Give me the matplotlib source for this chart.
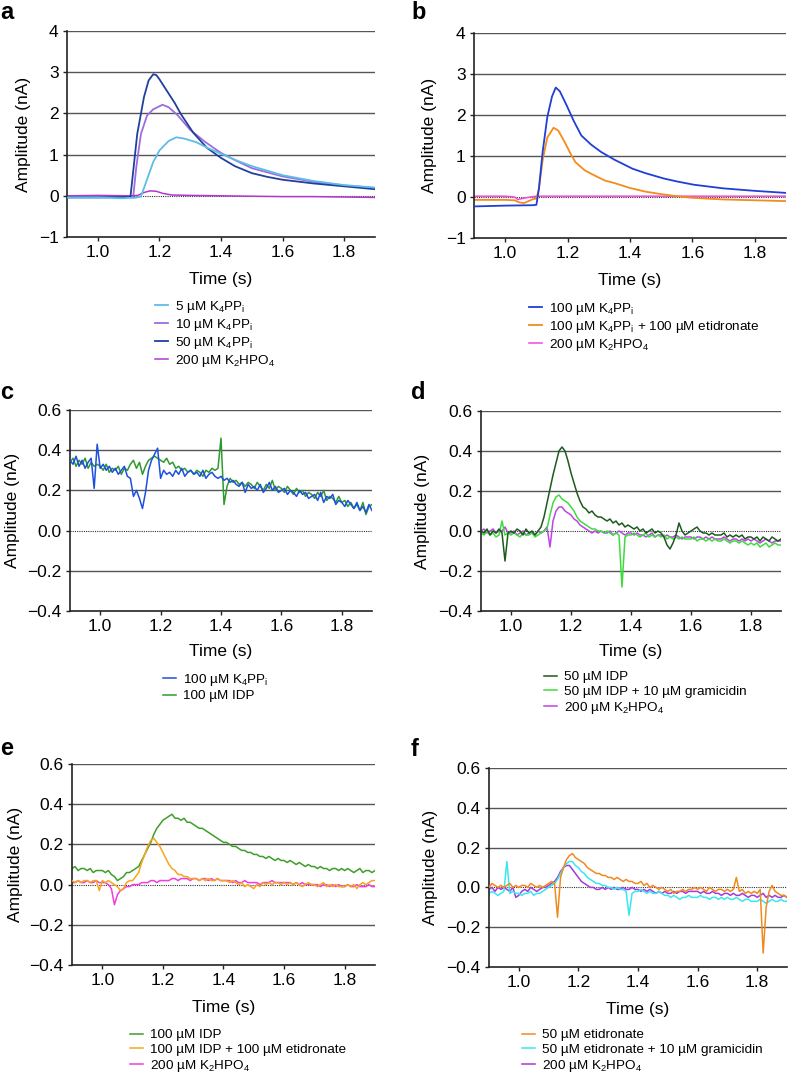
import numpy as np
import matplotlib
matplotlib.use('Agg')
import matplotlib.pyplot as plt

plt.rcParams['font.family'] = ['Liberation Sans', 'DejaVu Sans']
plt.rcParams['mathtext.fontset'] = 'custom'
plt.rcParams['mathtext.rm'] = 'Liberation Sans'
plt.rcParams['mathtext.it'] = 'Liberation Sans:italic'
plt.rcParams['axes.unicode_minus'] = True

# ---------------- panel a (smooth traces, key points) ----------------
a_t_5 = [0.90, 1.00, 1.08, 1.10, 1.12, 1.14, 1.16, 1.18, 1.20, 1.23, 1.255, 1.28, 1.32, 1.36, 1.40, 1.45, 1.50, 1.60, 1.70, 1.80, 1.90]
a_y_5 = [-0.04, -0.04, -0.06, -0.05, -0.05, -0.02, 0.40, 0.82, 1.10, 1.33, 1.42, 1.39, 1.30, 1.15, 1.02, 0.86, 0.72, 0.50, 0.36, 0.26, 0.20]
a_t_10 = [0.90, 1.00, 1.10, 1.115, 1.125, 1.14, 1.16, 1.18, 1.21, 1.23, 1.26, 1.30, 1.35, 1.40, 1.45, 1.50, 1.60, 1.70, 1.80, 1.90]
a_y_10 = [-0.03, -0.03, -0.03, -0.02, 0.70, 1.50, 1.95, 2.10, 2.21, 2.15, 1.95, 1.60, 1.30, 1.04, 0.85, 0.67, 0.47, 0.34, 0.25, 0.19]
a_t_50 = [0.90, 1.00, 1.10, 1.106, 1.115, 1.128, 1.15, 1.165, 1.18, 1.19, 1.20, 1.225, 1.25, 1.27, 1.31, 1.355, 1.40, 1.445, 1.50, 1.55, 1.60, 1.70, 1.80, 1.90]
a_y_50 = [-0.04, -0.04, -0.03, -0.02, 0.60, 1.50, 2.40, 2.80, 2.95, 2.93, 2.83, 2.54, 2.25, 1.98, 1.53, 1.16, 0.92, 0.72, 0.55, 0.46, 0.39, 0.30, 0.23, 0.16]
a_t_hpo = [0.90, 1.00, 1.10, 1.13, 1.15, 1.17, 1.19, 1.21, 1.24, 1.30, 1.40, 1.50, 1.60, 1.70, 1.80, 1.90]
a_y_hpo = [0.00, 0.01, 0.00, 0.01, 0.08, 0.12, 0.11, 0.06, 0.02, 0.01, 0.00, -0.01, -0.02, -0.02, -0.03, -0.04]

# ---------------- panel b ----------------
b_t_pp = [0.90, 1.00, 1.09, 1.100, 1.108, 1.12, 1.135, 1.15, 1.162, 1.175, 1.196, 1.22, 1.244, 1.275, 1.307, 1.35, 1.408, 1.45, 1.509, 1.55, 1.604, 1.70, 1.80, 1.90]
b_y_pp = [-0.23, -0.21, -0.20, -0.19, 0.20, 1.10, 1.95, 2.45, 2.67, 2.58, 2.25, 1.85, 1.50, 1.28, 1.10, 0.91, 0.69, 0.58, 0.45, 0.38, 0.30, 0.21, 0.15, 0.10]
b_t_eti = [0.90, 1.00, 1.03, 1.045, 1.06, 1.075, 1.09, 1.10, 1.108, 1.12, 1.135, 1.155, 1.17, 1.19, 1.21, 1.225, 1.255, 1.285, 1.32, 1.35, 1.40, 1.45, 1.50, 1.55, 1.60, 1.70, 1.80, 1.90]
b_y_eti = [-0.07, -0.07, -0.08, -0.13, -0.15, -0.10, -0.05, -0.04, 0.20, 0.90, 1.45, 1.69, 1.62, 1.35, 1.05, 0.85, 0.65, 0.53, 0.40, 0.34, 0.22, 0.13, 0.07, 0.02, -0.02, -0.06, -0.08, -0.10]
b_t_hpo = [0.90, 1.00, 1.03, 1.04, 1.06, 1.08, 1.10, 1.20, 1.40, 1.60, 1.80, 1.90]
b_y_hpo = [0.02, 0.02, 0.00, -0.06, -0.03, 0.00, 0.02, 0.02, 0.02, 0.02, 0.02, 0.02]

# ---------------- noisy traces, sampled every 10 ms from 0.90 to 1.90 s ----------------
t = np.linspace(0.9, 1.9, 101)

c_pp = [0.35, 0.33, 0.37, 0.32, 0.35, 0.31, 0.34, 0.36, 0.21, 0.43,
        0.31, 0.33, 0.30, 0.32, 0.29, 0.31, 0.28, 0.30, 0.32, 0.27,
        0.26, 0.17, 0.20, 0.16, 0.11, 0.19, 0.30, 0.35, 0.38, 0.41,
        0.26, 0.30, 0.28, 0.29, 0.27, 0.30, 0.28, 0.31, 0.27, 0.29,
        0.30, 0.28, 0.29, 0.27, 0.30, 0.26, 0.28, 0.29, 0.27, 0.26,
        0.27, 0.25, 0.26, 0.24, 0.25, 0.23, 0.22, 0.24, 0.19, 0.23,
        0.21, 0.22, 0.20, 0.23, 0.19, 0.21, 0.24, 0.20, 0.22, 0.19,
        0.20, 0.21, 0.18, 0.20, 0.19, 0.17, 0.20, 0.18, 0.19, 0.16,
        0.17, 0.18, 0.15, 0.19, 0.14, 0.17, 0.16, 0.18, 0.13, 0.15,
        0.14, 0.12, 0.15, 0.13, 0.11, 0.14, 0.10, 0.12, 0.09, 0.13,
        0.10]
c_idp = [0.34, 0.36, 0.32, 0.35, 0.33, 0.36, 0.31, 0.34, 0.32, 0.33,
         0.32, 0.30, 0.33, 0.29, 0.31, 0.30, 0.32, 0.28, 0.31, 0.30,
         0.33, 0.35, 0.31, 0.34, 0.28, 0.32, 0.35, 0.36, 0.37, 0.36,
         0.35, 0.34, 0.36, 0.33, 0.34, 0.31, 0.32, 0.30, 0.31, 0.29,
         0.30, 0.28, 0.30, 0.29, 0.27, 0.30, 0.29, 0.31, 0.30, 0.31,
         0.46, 0.13, 0.22, 0.26, 0.24, 0.25, 0.23, 0.24, 0.22, 0.24,
         0.23, 0.21, 0.24, 0.22, 0.20, 0.23, 0.21, 0.25, 0.20, 0.22,
         0.21, 0.19, 0.22, 0.20, 0.18, 0.21, 0.19, 0.20, 0.17, 0.19,
         0.18, 0.16, 0.19, 0.17, 0.20, 0.15, 0.17, 0.16, 0.14, 0.17,
         0.14, 0.15, 0.12, 0.14, 0.11, 0.13, 0.10, 0.14, 0.08, 0.12,
         0.13]

d_idp = [0.00, -0.01, 0.01, -0.02, 0.00, -0.01, 0.01, -0.01, -0.15, -0.01,
         0.00, -0.01, 0.01, 0.00, -0.02, 0.01, -0.01, 0.00, -0.02, 0.00,
         0.02, 0.07, 0.14, 0.21, 0.28, 0.34, 0.40, 0.42, 0.40, 0.35,
         0.29, 0.24, 0.19, 0.15, 0.12, 0.11, 0.09, 0.10, 0.08, 0.07,
         0.07, 0.06, 0.05, 0.06, 0.04, 0.05, 0.03, 0.04, 0.02, 0.03,
         0.02, 0.01, 0.02, 0.00, 0.01, -0.01, 0.00, 0.01, -0.01, 0.00,
         -0.01, -0.03, -0.07, -0.09, -0.06, -0.02, 0.04, 0.00, -0.02, -0.01,
         0.00, 0.01, 0.02, 0.00, -0.01, -0.01, -0.02, -0.01, -0.02, -0.02,
         -0.02, -0.01, -0.03, -0.02, -0.03, -0.02, -0.03, -0.02, -0.04, -0.03,
         -0.03, -0.04, -0.03, -0.05, -0.03, -0.04, -0.05, -0.03, -0.04, -0.05,
         -0.04]
d_gram = [-0.01, -0.02, 0.00, -0.02, -0.01, -0.03, -0.02, 0.05, -0.02, -0.01,
          -0.02, -0.01, -0.02, -0.03, -0.01, -0.02, -0.02, -0.01, -0.03, -0.02,
          -0.01, 0.00, 0.01, 0.08, 0.14, 0.17, 0.18, 0.16, 0.15, 0.14,
          0.12, 0.10, 0.07, 0.05, 0.04, 0.03, 0.02, 0.01, 0.01, 0.00,
          0.00, -0.01, 0.00, -0.01, -0.02, -0.01, -0.02, -0.28, -0.03, -0.02,
          -0.02, -0.01, -0.02, -0.03, -0.02, -0.01, -0.03, -0.02, -0.03, -0.02,
          -0.03, -0.02, -0.04, -0.03, -0.04, -0.03, -0.04, -0.03, -0.04, -0.04,
          -0.04, -0.03, -0.05, -0.04, -0.04, -0.05, -0.04, -0.05, -0.04, -0.05,
          -0.05, -0.04, -0.05, -0.06, -0.05, -0.05, -0.06, -0.05, -0.06, -0.07,
          -0.06, -0.07, -0.06, -0.08, -0.07, -0.06, -0.08, -0.07, -0.06, -0.07,
          -0.07]
d_hpo = [0.00, 0.01, -0.01, 0.00, 0.01, -0.01, 0.00, 0.00, 0.02, -0.01,
         -0.01, 0.00, -0.02, -0.01, 0.00, -0.02, -0.01, -0.01, -0.02, 0.00,
         -0.01, 0.00, 0.02, -0.08, 0.05, 0.10, 0.12, 0.12, 0.10, 0.09,
         0.08, 0.06, 0.05, 0.03, 0.02, 0.01, 0.00, -0.01, 0.00, -0.01,
         0.00, -0.01, -0.01, 0.00, -0.02, -0.01, 0.00, -0.01, -0.02, -0.01,
         -0.01, -0.02, -0.01, -0.02, -0.02, -0.03, -0.02, -0.01, -0.03, -0.02,
         -0.02, -0.03, -0.02, -0.03, -0.03, -0.02, -0.03, -0.04, -0.03, -0.03,
         -0.03, -0.04, -0.03, -0.03, -0.04, -0.03, -0.04, -0.03, -0.04, -0.04,
         -0.04, -0.03, -0.04, -0.05, -0.04, -0.04, -0.05, -0.04, -0.05, -0.04,
         -0.05, -0.04, -0.05, -0.06, -0.05, -0.04, -0.05, -0.06, -0.05, -0.05,
         -0.05]

e_idp = [0.08, 0.09, 0.07, 0.08, 0.08, 0.07, 0.08, 0.06, 0.07, 0.07,
         0.07, 0.06, 0.07, 0.05, 0.04, 0.02, 0.03, 0.04, 0.06, 0.06,
         0.07, 0.08, 0.09, 0.12, 0.15, 0.18, 0.21, 0.25, 0.28, 0.30,
         0.32, 0.33, 0.34, 0.35, 0.33, 0.33, 0.32, 0.33, 0.31, 0.31,
         0.30, 0.29, 0.28, 0.28, 0.27, 0.26, 0.25, 0.24, 0.23, 0.22,
         0.21, 0.21, 0.20, 0.19, 0.19, 0.18, 0.17, 0.17, 0.16, 0.16,
         0.15, 0.15, 0.14, 0.14, 0.13, 0.14, 0.13, 0.12, 0.13, 0.12,
         0.12, 0.11, 0.12, 0.11, 0.10, 0.11, 0.10, 0.09, 0.10, 0.09,
         0.09, 0.08, 0.09, 0.08, 0.08, 0.07, 0.08, 0.08, 0.07, 0.08,
         0.07, 0.08, 0.07, 0.06, 0.07, 0.08, 0.06, 0.07, 0.07, 0.06,
         0.07]
e_eti = [0.02, 0.01, 0.02, 0.01, 0.02, 0.02, 0.01, 0.02, 0.02, -0.03,
         0.02, 0.01, 0.02, 0.01, 0.00, -0.01, -0.03, -0.02, 0.01, 0.02,
         0.02, 0.04, 0.06, 0.11, 0.15, 0.19, 0.22, 0.23, 0.21, 0.19,
         0.16, 0.13, 0.10, 0.08, 0.07, 0.05, 0.05, 0.04, 0.04, 0.03,
         0.03, 0.03, 0.02, 0.03, 0.02, 0.03, 0.02, 0.02, 0.03, 0.02,
         0.02, 0.02, 0.01, 0.02, 0.01, 0.00, 0.01, -0.01, 0.00, -0.01,
         -0.02, 0.00, -0.01, 0.01, 0.00, 0.01, 0.00, 0.01, 0.01, 0.00,
         0.01, 0.00, 0.01, 0.00, 0.01, 0.00, -0.01, 0.00, 0.01, 0.00,
         0.00, -0.01, 0.00, 0.01, -0.01, 0.00, -0.01, 0.00, -0.01, -0.01,
         -0.01, 0.00, -0.01, 0.00, -0.02, 0.00, 0.01, 0.00, 0.01, 0.02,
         0.02]
e_hpo = [0.01, 0.01, 0.02, 0.01, 0.01, 0.02, 0.01, 0.01, 0.02, 0.01,
         0.01, 0.01, 0.00, -0.02, -0.10, -0.05, -0.03, -0.02, -0.01, -0.01,
         0.00, 0.00, 0.00, 0.01, 0.01, 0.01, 0.02, 0.02, 0.01, 0.02,
         0.02, 0.02, 0.02, 0.03, 0.03, 0.02, 0.03, 0.03, 0.03, 0.02,
         0.03, 0.03, 0.02, 0.03, 0.03, 0.02, 0.03, 0.02, 0.03, 0.02,
         0.02, 0.02, 0.02, 0.01, 0.02, 0.01, 0.01, 0.02, 0.01, 0.01,
         0.01, 0.01, 0.00, 0.01, 0.01, 0.01, 0.02, 0.01, 0.01, 0.01,
         0.01, 0.01, 0.01, 0.00, 0.01, 0.00, 0.01, 0.00, 0.00, 0.00,
         0.00, 0.00, -0.01, 0.00, 0.00, -0.01, 0.00, -0.01, 0.00, -0.01,
         -0.01, 0.00, -0.01, -0.01, 0.00, -0.01, -0.01, -0.01, 0.00, -0.01,
         -0.01]

f_eti = [0.00, 0.02, 0.01, 0.00, 0.01, 0.00, 0.01, 0.02, 0.00, 0.01,
         0.00, 0.01, 0.01, 0.00, 0.02, 0.01, 0.00, 0.01, 0.00, 0.01,
         0.02, 0.03, 0.02, -0.15, 0.05, 0.10, 0.14, 0.16, 0.17, 0.15,
         0.14, 0.13, 0.12, 0.10, 0.09, 0.08, 0.07, 0.07, 0.06, 0.06,
         0.05, 0.05, 0.04, 0.05, 0.04, 0.03, 0.04, 0.03, 0.03, 0.02,
         0.02, 0.03, 0.01, 0.02, 0.00, 0.01, 0.00, -0.01, 0.00, -0.01,
         -0.02, -0.01, -0.03, -0.02, -0.02, -0.01, -0.02, -0.01, -0.01, 0.00,
         -0.01, 0.00, -0.01, -0.02, 0.00, -0.01, -0.02, -0.01, -0.01, -0.02,
         -0.01, -0.02, -0.01, 0.05, -0.02, -0.01, -0.03, -0.02, -0.03, -0.02,
         -0.03, -0.01, -0.33, -0.10, -0.02, 0.01, -0.02, -0.03, -0.04, -0.04,
         -0.05]
f_gram = [-0.03, -0.02, -0.03, -0.04, -0.03, -0.02, 0.13, -0.03, -0.02, -0.03,
          -0.03, -0.04, -0.03, -0.03, -0.02, -0.04, -0.03, -0.03, -0.02, -0.01,
          0.00, 0.01, 0.02, 0.04, 0.07, 0.10, 0.12, 0.13, 0.13, 0.11,
          0.10, 0.08, 0.07, 0.05, 0.04, 0.03, 0.02, 0.02, 0.01, 0.01,
          0.00, 0.00, -0.01, 0.00, -0.01, -0.01, -0.02, -0.14, -0.03, -0.02,
          -0.02, -0.01, -0.02, -0.03, -0.02, -0.03, -0.03, -0.02, -0.03, -0.04,
          -0.04, -0.05, -0.04, -0.05, -0.06, -0.05, -0.05, -0.04, -0.05, -0.05,
          -0.05, -0.04, -0.05, -0.05, -0.06, -0.05, -0.05, -0.06, -0.05, -0.06,
          -0.05, -0.06, -0.06, -0.05, -0.06, -0.07, -0.06, -0.06, -0.07, -0.07,
          -0.07, -0.06, -0.07, -0.08, -0.07, -0.06, -0.07, -0.07, -0.06, -0.07,
          -0.07]
f_hpo = [-0.01, 0.00, -0.02, 0.00, -0.01, 0.00, -0.01, -0.02, 0.00, -0.05,
         -0.04, -0.02, -0.01, -0.02, 0.00, -0.01, -0.02, -0.01, 0.00, 0.00,
         0.01, 0.02, 0.03, 0.05, 0.08, 0.10, 0.11, 0.11, 0.09, 0.07,
         0.05, 0.03, 0.02, 0.01, 0.00, 0.00, -0.01, -0.01, 0.00, -0.01,
         0.00, -0.01, 0.00, -0.01, -0.01, 0.00, -0.01, -0.01, 0.00, -0.01,
         -0.01, -0.02, -0.01, -0.02, -0.01, -0.02, -0.03, -0.02, -0.03, -0.02,
         -0.03, -0.03, -0.02, -0.03, -0.02, -0.02, -0.03, -0.02, -0.02, -0.02,
         -0.02, -0.03, -0.02, -0.03, -0.03, -0.02, -0.03, -0.03, -0.04, -0.03,
         -0.03, -0.04, -0.03, -0.04, -0.04, -0.03, -0.04, -0.05, -0.04, -0.04,
         -0.05, -0.04, -0.03, -0.05, -0.04, -0.05, -0.04, -0.05, -0.05, -0.04,
         -0.05]

PPI = r' $\mathregular{K_4PP_i}$'
HPO = r'200 µM $\mathregular{K_2HPO_4}$'

W, H = 788, 1085
fig = plt.figure(figsize=(W / 100, H / 100), dpi=100)


def make_axes(l, r, top, bot):
    return fig.add_axes([l / W, 1 - bot / H, (r - l) / W, (bot - top) / H])


def style(ax, yticks, l, r, top, bot, ylab_x, xlab_top):
    ax.set_xlim(0.9, 1.9)
    ax.set_ylim(yticks[0], yticks[-1])
    ax.set_xticks([1.0, 1.2, 1.4, 1.6, 1.8])
    ax.set_yticks(yticks)
    for y in yticks[1:]:
        if abs(y) < 1e-9:
            ax.axhline(0, color='#333333', lw=0.8, ls=(0, (1, 1)), zorder=0.5)
        else:
            ax.axhline(y, color='#555555', lw=1.0, zorder=0.5)
    for s in ['top', 'right']:
        ax.spines[s].set_visible(False)
    for s in ['left', 'bottom']:
        ax.spines[s].set_linewidth(1.2)
        ax.spines[s].set_color('#222222')
    ax.tick_params(length=3, width=1, labelsize=12.5, pad=3, color='#222222')
    # label centre positions in pixels (ylabel anchor is its right edge)
    ax.set_ylabel('Amplitude (nA)', fontsize=12.5)
    ax.yaxis.set_label_coords((ylab_x + 9 - l) / (r - l), 0.5)
    ax.set_xlabel('Time (s)', fontsize=12.5)
    ax.xaxis.set_label_coords(0.5, -(xlab_top - bot) / (bot - top))


def legend(ax, x, y):
    ax.legend(loc='upper left', bbox_to_anchor=(x / W, 1 - y / H), bbox_transform=fig.transFigure,
              frameon=False, fontsize=9.7, handlelength=1.0, handletextpad=0.45,
              labelspacing=0.15, borderpad=0, borderaxespad=0)


def letter(x, y, s):
    fig.text(x / W, 1 - y / H, s, fontsize=17, fontweight='bold', ha='left', va='top')


# a
ax = make_axes(67, 375, 31, 237)
ax.plot(a_t_5, a_y_5, color='#5cbde9', lw=1.3, label='5 µM' + PPI, zorder=3)
ax.plot(a_t_10, a_y_10, color='#9d6ce0', lw=1.3, label='10 µM' + PPI, zorder=2)
ax.plot(a_t_50, a_y_50, color='#20409e', lw=1.3, label='50 µM' + PPI, zorder=2.5)
ax.plot(a_t_hpo, a_y_hpo, color='#b338cc', lw=1.1, label=HPO, zorder=2)
style(ax, [-1, 0, 1, 2, 3, 4], 67, 375, 31, 237, 22, 272)
legend(ax, 155, 299)
letter(0, 1, 'a')

# b
ax = make_axes(474, 786, 33, 238)
ax.plot(b_t_pp, b_y_pp, color='#1f3fd6', lw=1.3, label='100 µM' + PPI, zorder=3)
ax.plot(b_t_eti, b_y_eti, color='#f28c1c', lw=1.3,
        label='100 µM' + PPI + ' + 100 µM etidronate', zorder=2.5)
ax.plot(b_t_hpo, b_y_hpo, color='#f048dc', lw=1.1, label=HPO, zorder=2)
style(ax, [-1, 0, 1, 2, 3, 4], 474, 786, 33, 238, 428, 273)
legend(ax, 529, 301)
letter(411, 1, 'b')

cticks = [-0.4, -0.2, 0.0, 0.2, 0.4, 0.6]

# c
ax = make_axes(70, 372, 410, 611)
ax.plot(t, c_pp, color='#1e50e0', lw=1.1, label='100 µM' + PPI, zorder=3)
ax.plot(t, c_idp, color='#2e9a2e', lw=1.1, label='100 µM IDP', zorder=2)
style(ax, cticks, 70, 372, 410, 611, 11, 644)
legend(ax, 163, 672)
letter(0, 381, 'c')

# d
ax = make_axes(481, 781, 411, 611)
ax.plot(t, d_idp, color='#1d5a1d', lw=1.1, label='50 µM IDP', zorder=3)
ax.plot(t, d_gram, color='#3ddc3d', lw=1.1, label='50 µM IDP + 10 µM gramicidin', zorder=2.5)
ax.plot(t, d_hpo, color='#c043e8', lw=1.1, label=HPO, zorder=2)
style(ax, cticks, 481, 781, 411, 611, 421, 644)
legend(ax, 544, 671)
letter(411, 381, 'd')

# e
ax = make_axes(72, 375, 764, 965)
ax.plot(t, e_idp, color='#3f9e2a', lw=1.1, label='100 µM IDP', zorder=2.5)
ax.plot(t, e_eti, color='#f7a51e', lw=1.1, label='100 µM IDP + 100 µM etidronate', zorder=3)
ax.plot(t, e_hpo, color='#f03ce0', lw=1.1, label=HPO, zorder=2)
style(ax, cticks, 72, 375, 764, 965, 14, 1000)
legend(ax, 130, 1029)
letter(0, 737, 'e')

# f
ax = make_axes(489, 787, 768, 967)
ax.plot(t, f_eti, color='#f08a1e', lw=1.1, label='50 µM etidronate', zorder=3)
ax.plot(t, f_gram, color='#3ae6f0', lw=1.1, label='50 µM etidronate + 10 µM gramicidin', zorder=2.5)
ax.plot(t, f_hpo, color='#a53ad8', lw=1.1, label=HPO, zorder=2)
style(ax, cticks, 489, 787, 768, 967, 429, 1002)
legend(ax, 522, 1029)
letter(411, 738, 'f')

fig.savefig('out.png', dpi=100)
